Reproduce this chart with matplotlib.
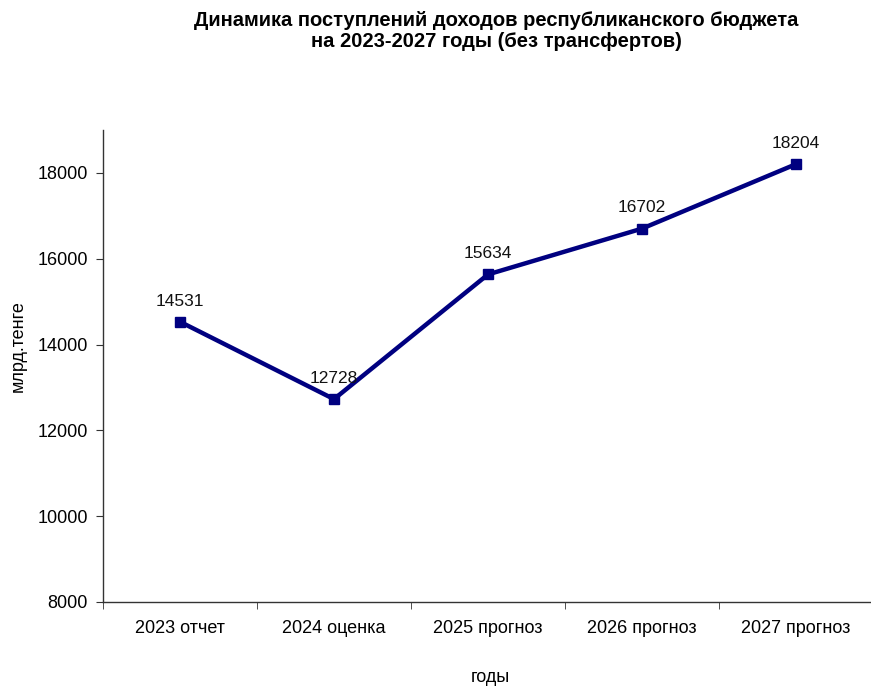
import matplotlib
matplotlib.use("Agg")
import matplotlib.pyplot as plt

categories = ["2023 отчет", "2024 оценка", "2025 прогноз", "2026 прогноз", "2027 прогноз"]
values = [14531, 12728, 15634, 16702, 18204]
yticks = [8000, 10000, 12000, 14000, 16000, 18000]

plt.rcParams['font.family'] = ['Liberation Sans', 'DejaVu Sans']

fig = plt.figure(figsize=(8.71, 6.87), dpi=100)
ax = fig.add_axes([103/871, 1-602/687, 770/871, (602-130)/687])

x = list(range(len(categories)))
ax.plot(x, values, color='#000080', lw=3.2, marker='s', ms=6.5, clip_on=False, zorder=3)
for xi, v in zip(x, values):
    ax.annotate(str(v), (xi, v), xytext=(0, 9.5), textcoords='offset points',
                ha='center', va='bottom', fontsize=12.5, color='#111111')

ax.set_xlim(-0.5, len(categories) - 0.5)
ax.set_ylim(8000, 19000)
ax.set_yticks(yticks)
ax.set_xticks(x)
ax.set_xticklabels(categories, fontsize=13)
ax.set_xticks([i + 0.5 for i in range(-1, len(categories))], minor=True)
ax.tick_params(axis='x', which='major', length=0, pad=13)
ax.tick_params(axis='x', which='minor', length=5, direction='out', color='#333333')
ax.tick_params(axis='y', labelsize=13, length=5, direction='out', color='#333333', pad=6)
for s in ['top', 'right']:
    ax.spines[s].set_visible(False)
for s in ['left', 'bottom']:
    ax.spines[s].set_color('#333333')
    ax.spines[s].set_linewidth(1.0)

fig.text(496/871, 1-31/687, "Динамика поступлений доходов республиканского бюджета\nна 2023-2027 годы (без трансфертов)",
         ha='center', va='center', fontsize=14.5, fontweight='bold', linespacing=1.15)
fig.text(18/871, 1-346/687, "млрд.тенге", rotation=90, ha='center', va='center', fontsize=13)
fig.text(490/871, 1-677/687, "годы", ha='center', va='center', fontsize=13)

fig.savefig("out.png", dpi=100)
